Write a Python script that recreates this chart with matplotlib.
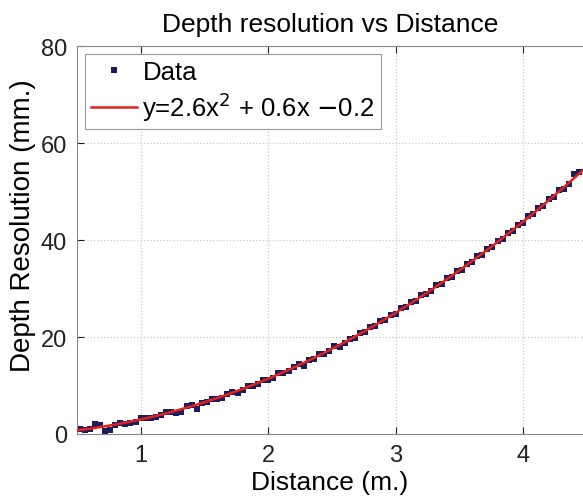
# depth resolution vs distance, quadratic fit
import numpy as np
import matplotlib
matplotlib.use('Agg')
import matplotlib.pyplot as plt

# ---- data ----
distance = [0.52, 0.56, 0.60, 0.64, 0.68, 0.72, 0.76, 0.80, 0.84, 0.88,
            0.92, 0.96, 1.00, 1.04, 1.08, 1.12, 1.16, 1.20, 1.24, 1.28,
            1.32, 1.36, 1.40, 1.44, 1.48, 1.52, 1.56, 1.60, 1.64, 1.68,
            1.72, 1.76, 1.80, 1.84, 1.88, 1.92, 1.96, 2.00, 2.04, 2.08,
            2.12, 2.16, 2.20, 2.24, 2.28, 2.32, 2.36, 2.40, 2.44, 2.48,
            2.52, 2.56, 2.60, 2.64, 2.68, 2.72, 2.76, 2.80, 2.84, 2.88,
            2.92, 2.96, 3.00, 3.04, 3.08, 3.12, 3.16, 3.20, 3.24, 3.28,
            3.32, 3.36, 3.40, 3.44, 3.48, 3.52, 3.56, 3.60, 3.64, 3.68,
            3.72, 3.76, 3.80, 3.84, 3.88, 3.92, 3.96, 4.00, 4.04, 4.08,
            4.12, 4.16, 4.20, 4.24, 4.28, 4.32, 4.36, 4.40, 4.44]
depth_res = [1.0, 0.9, 1.1, 2.0, 1.9, 0.7, 0.8, 1.9, 2.2, 2.0,
             2.3, 2.4, 3.4, 3.2, 3.3, 3.5, 3.9, 4.5, 4.6, 4.4,
             4.6, 5.7, 5.9, 5.2, 6.3, 6.5, 7.3, 7.2, 7.5, 8.3,
             8.6, 8.5, 9.1, 9.8, 9.9, 10.3, 11.2, 11.1, 11.6, 12.5,
             12.6, 12.9, 13.8, 14.4, 14.1, 15.3, 15.4, 16.5, 16.5, 17.1,
             18.1, 18.0, 18.8, 19.6, 19.9, 20.9, 21.0, 22.1, 22.2, 23.3,
             23.5, 24.6, 24.8, 25.9, 26.1, 27.2, 27.4, 28.6, 28.8, 29.5,
             30.7, 30.9, 32.1, 32.4, 33.6, 33.9, 35.1, 35.4, 36.7, 37.0,
             38.2, 38.6, 39.9, 40.2, 41.5, 41.9, 43.2, 43.6, 44.9, 45.3,
             46.7, 47.0, 48.4, 48.8, 50.3, 50.6, 51.6, 53.7, 54.0]

# fit coefficients (from legend)
fit_coef = [2.6, 0.6, -0.2]
x_ticks = [1, 2, 3, 4]
y_ticks = [0, 20, 40, 60, 80]

plt.rcParams['font.family'] = ['Liberation Sans', 'DejaVu Sans']

fig = plt.figure(figsize=(5.83, 5.02), dpi=100)
ax = fig.add_axes([0.132, 0.1335, 0.868, 0.7725])

xfit = np.linspace(0.5, 4.5, 200)
yfit = np.polyval(fit_coef, xfit)

ax.plot(distance, depth_res, 's', color='#1c1c5e', markersize=4.8,
        markeredgewidth=0, label='Data', zorder=2)
ax.plot(xfit, yfit, '-', color='#e3231b', linewidth=1.8,
        label=r'y=2.6x$^2$ + 0.6x $-$0.2', zorder=3)

ax.set_xlim(0.5, 4.47)
ax.set_ylim(0, 80)
ax.set_xticks(x_ticks)
ax.set_yticks(y_ticks)
ax.tick_params(direction='in', length=5, top=True, right=False,
               labelsize=17, colors='#222222', pad=7)
ax.grid(True, linestyle=':', color='#c8c8c8', linewidth=0.9)

for side in ['left', 'bottom', 'top']:
    ax.spines[side].set_color('#888888')
ax.spines['right'].set_visible(False)

ax.set_title('Depth resolution vs Distance', fontsize=19, pad=11)
ax.set_xlabel('Distance (m.)', fontsize=19, labelpad=3)
ax.set_ylabel('Depth Resolution (mm.)', fontsize=20)
ax.yaxis.set_label_coords(-0.08, 0.54)

leg = ax.legend(loc='upper left', fontsize=18.5, fancybox=False,
                framealpha=1, edgecolor='#999999', handlelength=1.8,
                handletextpad=0.2, borderpad=0.25, labelspacing=0.2,
                borderaxespad=0.3, markerscale=0.8)
leg.get_frame().set_linewidth(0.8)

fig.savefig('out.png', dpi=100)
